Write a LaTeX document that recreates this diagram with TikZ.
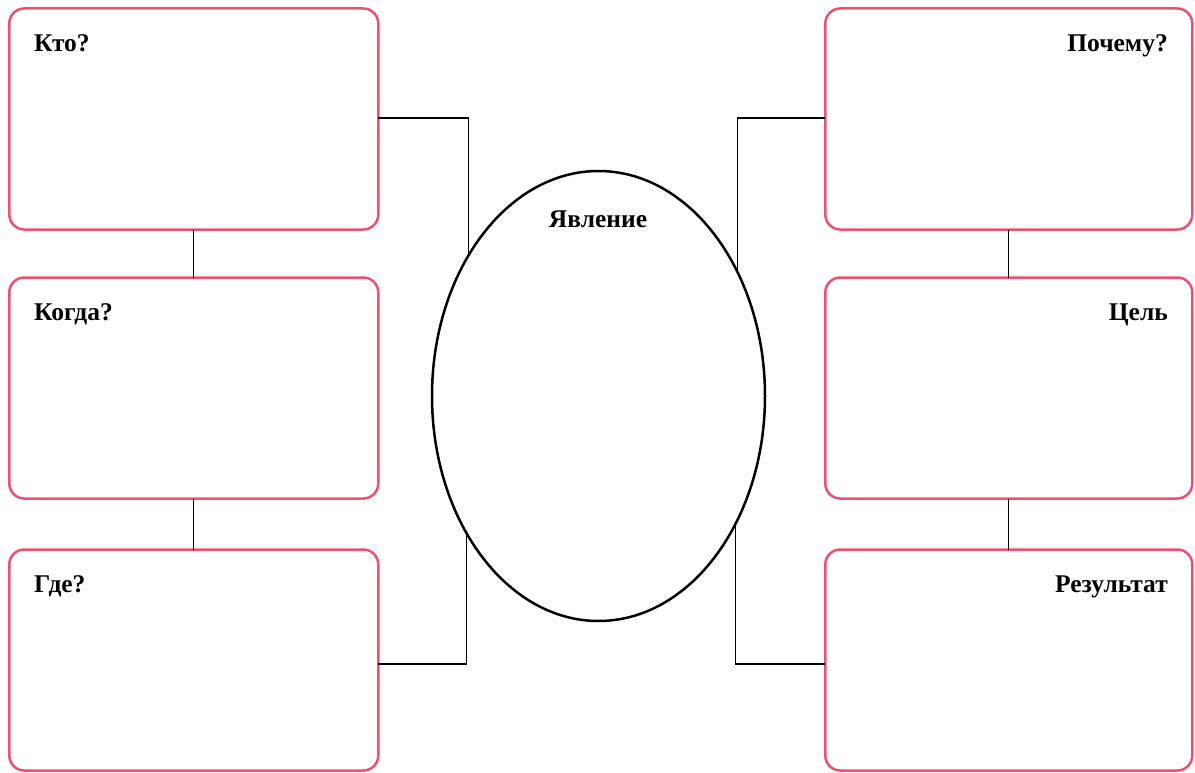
\documentclass[tikz,border=0pt]{standalone}
\usepackage{fontspec}
\setmainfont{Liberation Serif}
\usetikzlibrary{shapes.geometric}
\definecolor{boxpink}{HTML}{F0506E}
\begin{document}
\begin{tikzpicture}[x=1pt,y=-1pt,
  qbox/.style={draw=boxpink,line width=2.5pt,rounded corners=15pt,minimum width=369pt,minimum height=221pt,inner sep=0pt,outer sep=0pt,anchor=north west},
  conn/.style={draw=black,line width=1.1pt},
  lbl/.style={font=\bfseries\fontsize{25.5}{28}\selectfont,inner sep=0pt}]
\useasboundingbox (0,0) rectangle (1195,773);
\node[qbox] (kto) at (9.3,8.5) {};
\node[qbox] (kogda) at (9.3,277.5) {};
\node[qbox] (gde) at (9.3,549.5) {};
\node[qbox,minimum width=367pt] (pochemu) at (825.3,8.5) {};
\node[qbox,minimum width=367pt] (cel) at (825.3,277.5) {};
\node[qbox,minimum width=367pt] (rez) at (825.3,549.5) {};
\node[draw,ellipse,line width=2.5pt,minimum width=333pt,minimum height=450pt,inner sep=0pt,outer sep=0pt] (el) at (598.5,396) {};
\node[lbl,anchor=base west] (t1) at (34,52) {Кто?};
\node[lbl,anchor=base west] (t2) at (34,320) {Когда?};
\node[lbl,anchor=base west] (t3) at (34,592) {Где?};
\node[lbl,anchor=base east] (t4) at (1168,52) {Почему?};
\node[lbl,anchor=base east] (t5) at (1168,320) {Цель};
\node[lbl,anchor=base east] (t6) at (1168,592) {Результат};
\node[lbl,anchor=base] (t7) at (598,227) {Явление};
\draw[conn] (kto.east |- 0,118) -| (el.133.9);
\draw[conn] (gde.east |- 0,664) -| (el.226.1);
\draw[conn] (pochemu.west |- 0,118) -| (el.42.4);
\draw[conn] (rez.west |- 0,664) -| (el.317.6);
\draw[conn] (kto.south) -- (kogda.north);
\draw[conn] (kogda.south) -- (gde.north);
\draw[conn] (pochemu.south) -- (cel.north);
\draw[conn] (cel.south) -- (rez.north);
\end{tikzpicture}
\end{document}
